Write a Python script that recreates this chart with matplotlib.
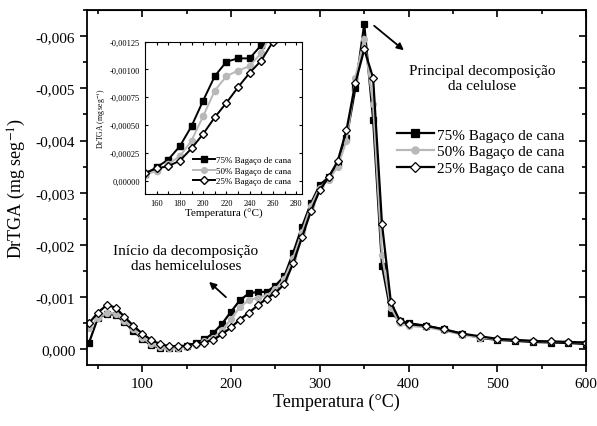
import numpy as np
import matplotlib
matplotlib.use("Agg")
import matplotlib.pyplot as plt
from matplotlib.ticker import MultipleLocator, FuncFormatter

plt.rcParams['font.family'] = ['Liberation Serif', 'DejaVu Serif']
plt.rcParams['mathtext.fontset'] = 'stix'

# temperaturas (°C) e DrTGA (mg seg^-1)
temp = [40, 50, 60, 70, 80, 90, 100, 110, 120, 130, 140, 150, 160, 170, 180, 190,
        200, 210, 220, 230, 240, 250, 260, 270, 280, 290, 300, 310, 320, 330, 340,
        350, 360, 370, 380, 390, 400, 420, 440, 460, 480, 500, 520, 540, 560, 580, 600]

bag75 = [-0.00012, -0.00060, -0.00068, -0.00066, -0.00052, -0.00035, -0.00020, -0.00008,
         -0.00003, -0.00002, -0.00003, -0.00006, -0.00012, -0.00019, -0.00031, -0.00049,
         -0.00072, -0.00094, -0.00107, -0.00110, -0.00110, -0.00122, -0.00140, -0.00185,
         -0.00235, -0.00280, -0.00315, -0.00330, -0.00355, -0.00405, -0.00500,
         -0.00623, -0.00440, -0.00160, -0.00070, -0.00055, -0.00050, -0.00045, -0.00038,
         -0.00030, -0.00022, -0.00018, -0.00016, -0.00014, -0.00013, -0.00012, -0.00010]

bag50 = [-0.00040, -0.00060, -0.00070, -0.00068, -0.00055, -0.00038, -0.00022, -0.00010,
         -0.00004, -0.00002, -0.00003, -0.00005, -0.00009, -0.00015, -0.00022, -0.00036,
         -0.00058, -0.00081, -0.00094, -0.00099, -0.00103, -0.00115, -0.00135, -0.00175,
         -0.00225, -0.00275, -0.00310, -0.00325, -0.00350, -0.00400, -0.00520,
         -0.00595, -0.00470, -0.00180, -0.00080, -0.00050, -0.00045, -0.00042, -0.00036,
         -0.00028, -0.00022, -0.00020, -0.00018, -0.00016, -0.00015, -0.00014, -0.00013]

bag25 = [-0.00050, -0.00070, -0.00085, -0.00080, -0.00062, -0.00045, -0.00030, -0.00018,
         -0.00010, -0.00006, -0.00006, -0.00007, -0.00011, -0.00013, -0.00018, -0.00029,
         -0.00042, -0.00057, -0.00070, -0.00084, -0.00097, -0.00108, -0.00125, -0.00165,
         -0.00215, -0.00265, -0.00305, -0.00330, -0.00360, -0.00420, -0.00510,
         -0.00575, -0.00520, -0.00240, -0.00090, -0.00055, -0.00048, -0.00045, -0.00038,
         -0.00030, -0.00025, -0.00020, -0.00018, -0.00016, -0.00015, -0.00014, -0.00013]

rotulos = ['75% Bagaço de cana', '50% Bagaço de cana', '25% Bagaço de cana']

cinza = '#b8b8b8'
estilos = [dict(color='black', marker='s', mfc='black', mec='black'),
           dict(color=cinza, marker='o', mfc=cinza, mec=cinza),
           dict(color='black', marker='D', mfc='white', mec='black')]


def virgula(casas):
    def f(v, pos):
        if abs(v) < 1e-12:
            v = 0.0
        return f"{v:.{casas}f}".replace('.', ',')
    return FuncFormatter(f)


fig = plt.figure(figsize=(5.97, 4.27), dpi=100)
ax = fig.add_axes([0.146, 0.143, 0.836, 0.831])

for serie, rot, est in zip([bag75, bag50, bag25], rotulos, estilos):
    ax.plot(temp, serie, lw=1.6, ms=4.3, mew=0.9, label=rot, **est)

ax.set_xlim(38, 600)
ax.set_ylim(0.0003, -0.0065)
ax.xaxis.set_major_locator(MultipleLocator(100))
ax.xaxis.set_minor_locator(MultipleLocator(50))
ax.yaxis.set_major_locator(MultipleLocator(0.001))
ax.yaxis.set_minor_locator(MultipleLocator(0.0005))
ax.yaxis.set_major_formatter(virgula(3))
ax.tick_params(which='major', direction='out', length=5, width=1.2, labelsize=11)
ax.tick_params(which='minor', direction='out', length=3, width=1.2)
for s in ax.spines.values():
    s.set_linewidth(1.3)

topo = ax.secondary_xaxis('top')
topo.xaxis.set_major_locator(MultipleLocator(100))
topo.xaxis.set_minor_locator(MultipleLocator(50))
topo.tick_params(which='both', direction='in', labeltop=False, width=1.2)
topo.tick_params(which='major', length=5)
topo.tick_params(which='minor', length=3)
dir_ = ax.secondary_yaxis('right')
dir_.yaxis.set_major_locator(MultipleLocator(0.001))
dir_.yaxis.set_minor_locator(MultipleLocator(0.0005))
dir_.tick_params(which='both', direction='in', labelright=False, width=1.2)
dir_.tick_params(which='major', length=5)
dir_.tick_params(which='minor', length=3)

ax.set_xlabel('Temperatura (°C)', fontsize=13, labelpad=2)
ax.set_ylabel('DrTGA (mg seg$^{-1}$)', fontsize=13, labelpad=6)

leg = ax.legend(loc='upper left', bbox_to_anchor=(0.665, 0.698), bbox_transform=fig.transFigure,
                frameon=False, fontsize=11, handlelength=2.4, handletextpad=0.25,
                labelspacing=0.2, borderpad=0, borderaxespad=0, markerscale=1.2)

# anotacoes
ax.annotate('', xy=(406, 427 - 53), xycoords='figure pixels',
            xytext=(372, 427 - 25), textcoords='figure pixels',
            arrowprops=dict(arrowstyle='-|>', color='black', lw=1.3, mutation_scale=10))
fig.text(482 / 597, 1 - 79 / 427, 'Principal decomposição\nda celulose', ha='center', va='center',
         fontsize=11, linespacing=1.3)
ax.annotate('', xy=(207, 427 - 281), xycoords='figure pixels',
            xytext=(228, 427 - 300), textcoords='figure pixels',
            arrowprops=dict(arrowstyle='-|>', color='black', lw=1.3, mutation_scale=10))
fig.text(186 / 597, 1 - 259 / 427, 'Início da decomposição\ndas hemiceluloses', ha='center', va='center',
         fontsize=11, linespacing=1.3)

# grafico inserido
ins = fig.add_axes([145 / 597, 1 - 195 / 427, 157 / 597, 152.3 / 427])
for serie, rot, est in zip([bag75, bag50, bag25], rotulos, estilos):
    ins.plot(temp, serie, lw=1.4, ms=4.5, label=rot, **est)
ins.set_xlim(150, 285)
ins.set_ylim(0.00012, -0.00125)
ins.xaxis.set_major_locator(MultipleLocator(20))
ins.xaxis.set_minor_locator(MultipleLocator(10))
ins.yaxis.set_major_locator(MultipleLocator(0.00025))
ins.yaxis.set_major_formatter(virgula(5))
ins.tick_params(which='both', direction='in', top=True, right=True, length=2, width=0.8, labelsize=6)
for s in ins.spines.values():
    s.set_linewidth(0.8)
ins.set_xlabel('Temperatura (°C)', fontsize=8, labelpad=1)
ins.set_ylabel('DrTGA (mg seg$^{-1}$)', fontsize=5.5, labelpad=1)
ins.legend(loc='upper left', bbox_to_anchor=(193 / 597, 1 - 157 / 427), bbox_transform=fig.transFigure,
           frameon=False, fontsize=6.5, handlelength=2.4, handletextpad=0.2,
           labelspacing=0.25, borderpad=0, borderaxespad=0, markerscale=0.9)

fig.savefig('out.png', dpi=100)
